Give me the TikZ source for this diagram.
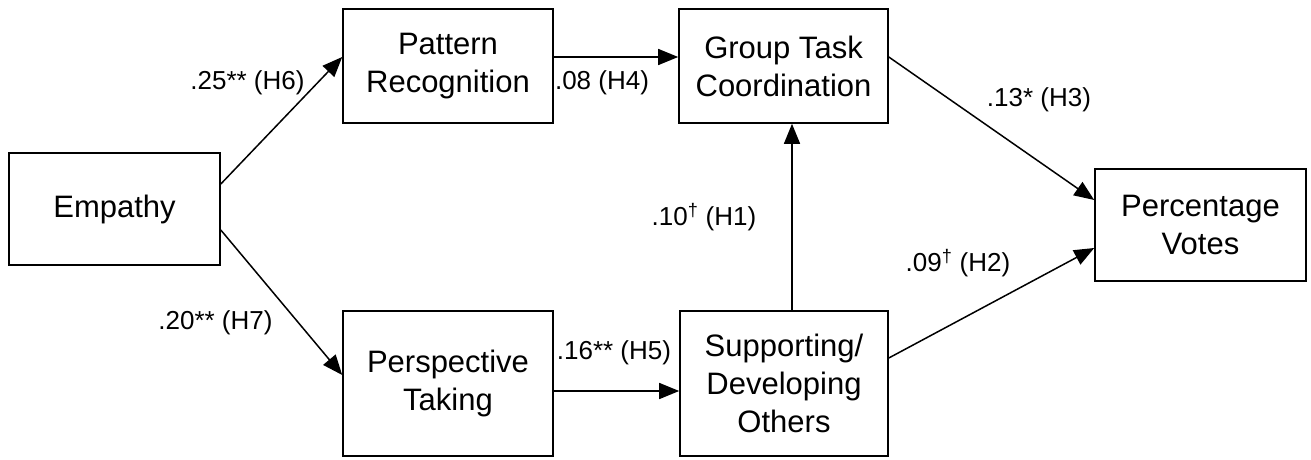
\documentclass[tikz,border=0pt]{standalone}
\usepackage{fontspec}
\setmainfont{Liberation Sans}
\usetikzlibrary{arrows.meta}
\tikzset{
  box/.style={draw=black, line width=1.6pt, rectangle, align=center, inner sep=0pt,
    font=\fontsize{31}{38}\selectfont},
  conn/.style={draw=black, line width=1.5pt, -{Triangle[length=20pt,width=16pt]}},
  lab/.style={inner sep=0pt, font=\fontsize{26}{30}\selectfont}
}
\begin{document}
\begin{tikzpicture}[x=1pt,y=-1pt]
\useasboundingbox (0,0) rectangle (1311,460);
\node[box, minimum width=211pt, minimum height=112pt] (emp) at (114.5,209) {Empathy};
\node[box, minimum width=210pt, minimum height=114pt] (pr) at (448,66) {Pattern\\Recognition};
\node[box, minimum width=209pt, minimum height=114pt] (gtc) at (783.5,66) {Group Task\\Coordination};
\node[box, minimum width=210pt, minimum height=145pt] (pt) at (448,383.5) {Perspective\\Taking};
\node[box, minimum width=208pt, minimum height=145pt] (sdo) at (784,383.5) {Supporting/\\Developing\\Others};
\node[box, minimum width=211pt, minimum height=112pt] (pv) at (1200.5,225) {Percentage\\Votes};

\draw[conn] ([yshift=25pt]emp.east) -- ([yshift=9pt]pr.west);
\draw[conn] ([yshift=-21pt]emp.east) -- ([yshift=8.5pt]pt.west);
\draw[conn] ([yshift=9pt]pr.east) -- ([yshift=9pt]gtc.west);
\draw[conn] ([yshift=-7.5pt]pt.east) -- ([yshift=-7.5pt]sdo.west);
\draw[conn] ([xshift=8pt]sdo.north) -- ([xshift=8pt]sdo.north |- gtc.south);
\draw[conn] ([yshift=9pt]gtc.east) -- ([yshift=25pt]pv.west);
\draw[conn] ([yshift=25.5pt]sdo.east) -- ([yshift=-23pt]pv.west);

\node[lab] (l6) at (247.5,83) {.25** (H6)};
\node[lab] (l7) at (215.5,323) {.20** (H7)};
\node[lab] (l4) at (602,83) {.08 (H4)};
\node[lab] (l5) at (614,353) {.16** (H5)};
\node[lab] (l1) at (704,217) {.10\textsuperscript{†} (H1)};
\node[lab] (l3) at (1039,100) {.13* (H3)};
\node[lab] (l2) at (958,263) {.09\textsuperscript{†} (H2)};
\end{tikzpicture}
\end{document}
